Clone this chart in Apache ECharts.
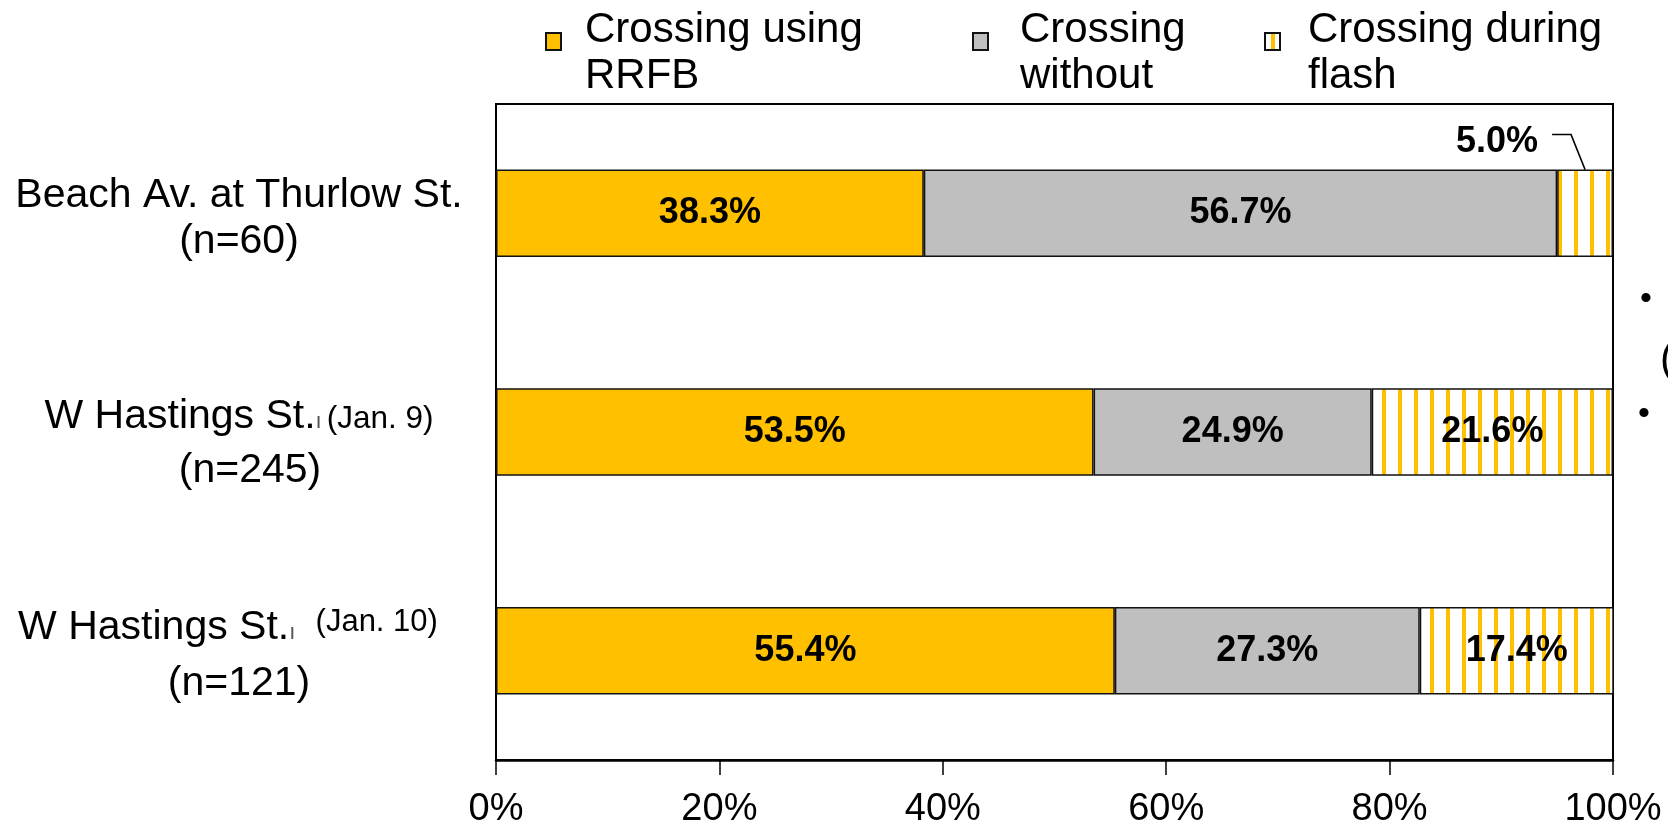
<!DOCTYPE html>
<html>
<head>
<meta charset="utf-8">
<script src="https://cdn.jsdelivr.net/npm/echarts@6/dist/echarts.min.js"></script>
<style>
html,body{margin:0;padding:0;background:#fff;}
#chart{width:1668px;height:824px;}
</style>
</head>
<body>
<div id="chart"></div>
<script>
// ---- data ----
const sites = ['Beach Av. at Thurlow St.', 'W Hastings St.', 'W Hastings St.'];
const dates = ['', '(Jan. 9)', '(Jan. 10)'];
const counts = ['(n=60)', '(n=245)', '(n=121)'];
const seriesNames = ['Crossing using\nRRFB', 'Crossing\nwithout', 'Crossing during\nflash'];
const rrfb = [38.3, 53.5, 55.4];
const without = [56.7, 24.9, 27.3];
const flash = [5.0, 21.6, 17.4];
const xTicks = [0, 20, 40, 60, 80, 100];

const FONT = '"Liberation Sans", Arial, sans-serif';
const categories = sites.map((s, i) => s + ' ' + dates[i] + ' ' + counts[i]);

// stripe pattern for "during flash"
const pat = document.createElement('canvas');
pat.width = 16; pat.height = 16;
const pctx = pat.getContext('2d');
pctx.fillStyle = '#ffffff'; pctx.fillRect(0, 0, 16, 16);
pctx.fillStyle = '#FFC000'; pctx.fillRect(6, 0, 4, 16);

const chart = echarts.init(document.getElementById('chart'), null, {renderer: 'canvas'});

const barLabel = {
  show: true, position: 'inside', color: '#000', fontFamily: FONT,
  fontWeight: 'bold', fontSize: 36,
  formatter: p => p.value.toFixed(1) + '%'
};
const border = {borderColor: '#111', borderWidth: 1.5};

function legendAt(name, left, padLeft) {
  return {
    data: [name], left: left, top: 4, orient: 'horizontal', icon: 'rect',
    itemWidth: 15, itemHeight: 17, itemGap: 0,
    formatter: n => {
      const parts = n.split('\n');
      return '{l1|' + parts[0] + '}\n{l2|' + parts[1] + '}';
    },
    textStyle: {
      fontFamily: FONT, fontSize: 42, color: '#000', padding: [0, 0, 0, padLeft],
      rich: {
        l1: {fontFamily: FONT, fontSize: 42, color: '#000', lineHeight: 70},
        l2: {fontFamily: FONT, fontSize: 42, color: '#000', lineHeight: 23}
      }
    },
    selectedMode: false
  };
}

const option = {
  animation: false,
  backgroundColor: '#fff',
  legend: [
    legendAt(seriesNames[0], 540, 19),
    legendAt(seriesNames[1], 967, 27),
    legendAt(seriesNames[2], 1259, 23)
  ],
  grid: {left: 496, right: 55, top: 104, bottom: 64, show: true, borderColor: '#000', borderWidth: 2,
         containLabel: false, outerBoundsMode: 'none'},
  xAxis: {
    type: 'value', min: 0, max: 100, interval: 20,
    axisLine: {show: true, lineStyle: {color: '#000', width: 2.5}},
    axisTick: {show: true, length: 15, lineStyle: {color: '#000', width: 1.5}},
    splitLine: {show: false},
    axisLabel: {
      fontFamily: FONT, fontSize: 38, color: '#000', margin: 31,
      formatter: v => xTicks.indexOf(v) >= 0 ? v + '%' : ''
    }
  },
  yAxis: {
    type: 'category', data: categories, inverse: true,
    axisLine: {show: true, lineStyle: {color: '#000', width: 2}},
    axisTick: {show: false},
    axisLabel: {
      margin: 257, align: 'center',
      formatter: (v, i) => {
        if (i === 0) return '{b1|' + sites[i] + '}\n{b2|' + counts[i] + '}';
        if (i === 1) return '{h1|' + sites[i] + '}{g1|ı}{s|' + dates[i] + '}\n{h2|' + counts[i] + '}';
        return '{j1|' + sites[i] + '}{g2|ı}{t|  ' + dates[i] + '}\n{j2|' + counts[i] + '}';
      },
      rich: {
        b1: {fontFamily: FONT, fontSize: 41, color: '#000', lineHeight: 57},
        b2: {fontFamily: FONT, fontSize: 41, color: '#000', lineHeight: 35},
        h1: {fontFamily: FONT, fontSize: 41, color: '#000', lineHeight: 77},
        h2: {fontFamily: FONT, fontSize: 41, color: '#000', lineHeight: 31, padding: [0, 0, 0, 22]},
        j1: {fontFamily: FONT, fontSize: 41, color: '#000', lineHeight: 66},
        j2: {fontFamily: FONT, fontSize: 41, color: '#000', lineHeight: 45},
        s: {fontFamily: FONT, fontSize: 31.5, color: '#000', lineHeight: 77, padding: [6, 0, 0, 5]},
        t: {fontFamily: FONT, fontSize: 31, color: '#000', lineHeight: 66, padding: [0, 22, 12, 3]},
        g1: {fontFamily: FONT, fontSize: 22, color: '#555', lineHeight: 77, padding: [10, 0, 0, 0]},
        g2: {fontFamily: FONT, fontSize: 22, color: '#555', lineHeight: 66, padding: [10, 0, 0, 0]}
      }
    }
  },
  series: [
    {name: seriesNames[0], type: 'bar', stack: 'all', barCategoryGap: '60%', data: rrfb,
     itemStyle: Object.assign({color: '#FFC000'}, border), label: barLabel},
    {name: seriesNames[1], type: 'bar', stack: 'all', data: without,
     itemStyle: Object.assign({color: '#BFBFBF'}, border), label: barLabel},
    {name: seriesNames[2], type: 'bar', stack: 'all',
     data: flash.map((v, i) => i === 0 ? {value: v, label: {position: 'top', distance: 5, offset: [-88, -5]}} : v),
     itemStyle: Object.assign({color: {image: pat, repeat: 'repeat'}}, border), label: barLabel}
  ]
};
chart.setOption(option);

// leader line for the small first "during flash" segment, computed from the axes
const c0 = chart.convertToPixel({gridIndex: 0}, [rrfb[0] + without[0] + flash[0] / 2, 0]);
const c1 = chart.convertToPixel({gridIndex: 0}, [0, 1]);
const band = Math.abs(c1[1] - c0[1]);
const barTop = c0[1] - band * 0.4 / 2;
chart.setOption({
  graphic: [
    {type: 'polyline', z: 100, shape: {points: [[c0[0] - 33, barTop - 35], [c0[0] - 14, barTop - 35], [c0[0], barTop]]},
     style: {stroke: '#000', lineWidth: 1.5, fill: null}},
    {type: 'text', left: 1640, top: 283, style: {text: '•', fontFamily: FONT, fontSize: 34, fill: '#000'}},
    {type: 'text', left: 1638, top: 398, style: {text: '•', fontFamily: FONT, fontSize: 34, fill: '#000'}},
    {type: 'text', left: 1660, top: 339, style: {text: '(', fontFamily: FONT, fontSize: 42, fill: '#000'}}
  ]
});
</script>
</body>
</html>
